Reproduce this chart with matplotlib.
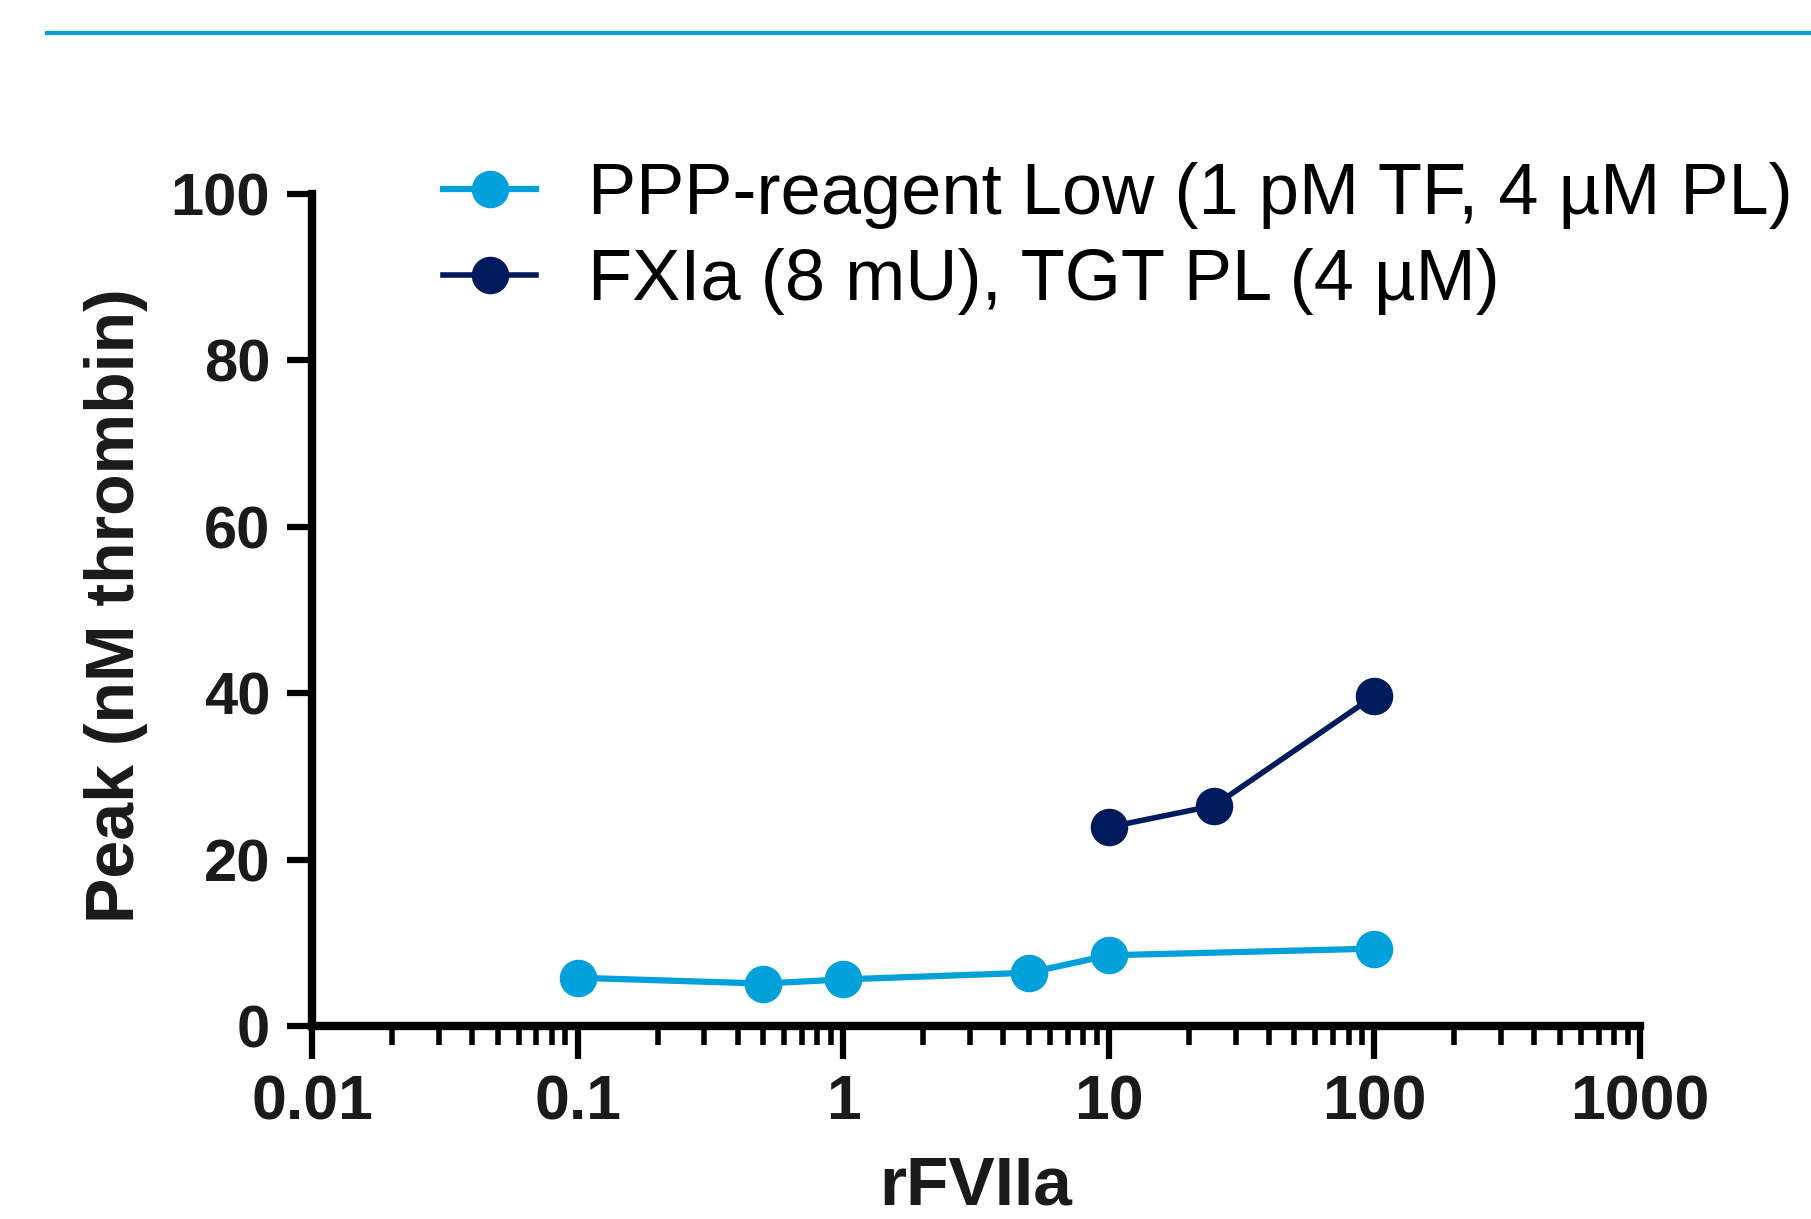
import matplotlib
matplotlib.use("Agg")
import matplotlib.pyplot as plt
from matplotlib.lines import Line2D
from matplotlib.ticker import LogLocator, NullFormatter, FixedLocator, FixedFormatter

# Data
ppp_x = [0.1, 0.5, 1, 5, 10, 100]
ppp_y = [5.8, 5.1, 5.6, 6.4, 8.5, 9.3]
fxia_x = [10, 25, 100]
fxia_y = [23.9, 26.5, 39.7]
labels = ["PPP-reagent Low (1 pM TF, 4 \u00b5M PL)", "FXIa (8 mU), TGT PL (4 \u00b5M)"]
xticks = [0.01, 0.1, 1, 10, 100, 1000]
xticklabels = ["0.01", "0.1", "1", "10", "100", "1000"]
yticks = [0, 20, 40, 60, 80, 100]

light = "#00a0da"
dark = "#001a5e"

plt.rcParams['font.family'] = ['Liberation Sans', 'DejaVu Sans']

W, H = 1811, 1219
fig = plt.figure(figsize=(W/100, H/100), dpi=100)

# top rule
fig.add_artist(Line2D([45/W, 1.0], [1-33/H, 1-33/H], color="#009fd6", lw=3.0,
                      transform=fig.transFigure, solid_capstyle='butt'))

left, right = 312/W, 1640/W
bottom, top = 1-1026/H, 1-194/H
ax = fig.add_axes([left, bottom, right-left, top-bottom])

ax.plot(ppp_x, ppp_y, color=light, lw=4.5, marker='o', ms=26, label=labels[0])
ax.plot(fxia_x, fxia_y, color=dark, lw=4, marker='o', ms=26, label=labels[1])

ax.set_xscale('log')
ax.set_xlim(0.01, 1000)
ax.set_ylim(0, 100)
for s in ['top', 'right']:
    ax.spines[s].set_visible(False)
for s in ['left', 'bottom']:
    ax.spines[s].set_linewidth(6)
    ax.spines[s].set_capstyle('projecting')
ax.spines['left'].set_bounds(0, 100)

ax.xaxis.set_major_locator(FixedLocator(xticks))
ax.xaxis.set_major_formatter(FixedFormatter(xticklabels))
ax.xaxis.set_minor_locator(LogLocator(base=10, subs=range(2, 10), numticks=20))
ax.xaxis.set_minor_formatter(NullFormatter())
ax.set_yticks(yticks)
ax.set_yticklabels([str(v) for v in yticks])

ax.tick_params(axis='x', which='major', length=24, width=4.5, pad=10, labelsize=45)
ax.tick_params(axis='x', which='minor', length=14, width=4)
ax.tick_params(axis='y', which='major', length=18, width=4.5, pad=12, labelsize=43)
for t in ax.get_xticklabels() + ax.get_yticklabels():
    t.set_fontweight('bold')
    t.set_color('#1a1a1a')

for l in ax.get_lines():
    l.set_clip_on(False)

ax.set_xlabel("rFVIIa", fontsize=50, fontweight='bold', color='#1a1a1a')
ax.xaxis.set_label_coords(0.5, -0.155)
fig.text(116/W, 1-606/H, "Peak (nM thrombin)", rotation=90, ha='center', va='center',
         fontsize=49, fontweight='bold', color='#1a1a1a')

leg = ax.legend(loc='upper left', bbox_to_anchor=(443/W, 1-162/H), bbox_transform=fig.transFigure,
                frameon=False, fontsize=52, handlelength=1.29, handletextpad=0.72,
                labelspacing=0.26, borderpad=0, borderaxespad=0, markerscale=1.0)

fig.savefig("out.png", dpi=100)
